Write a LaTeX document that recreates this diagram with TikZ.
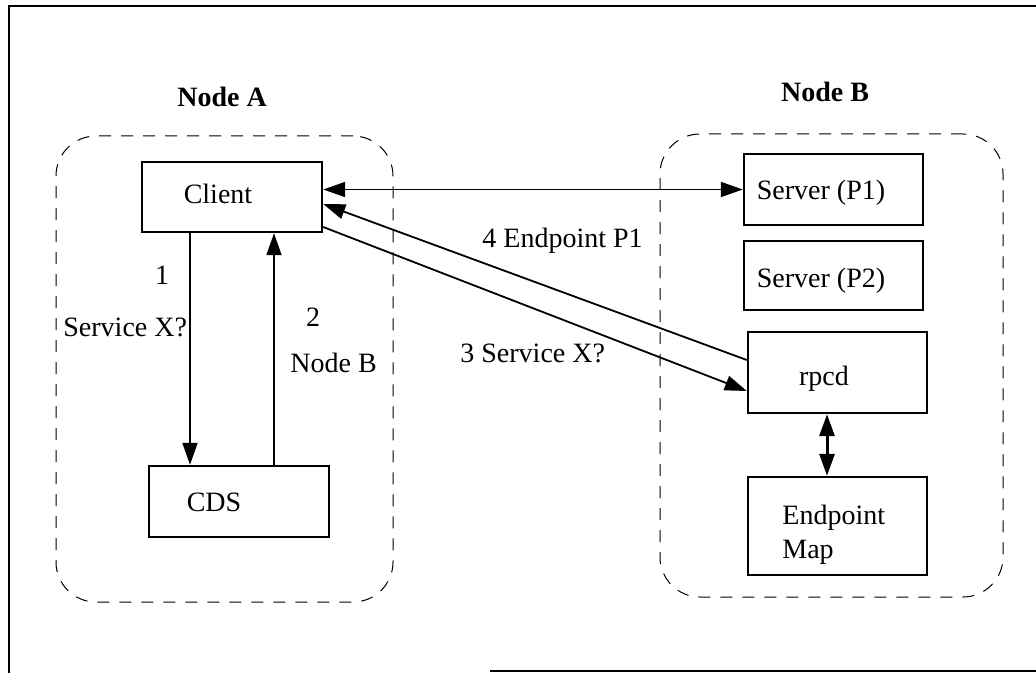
\documentclass[tikz,border=0pt]{standalone}
\usepackage{fontspec}
\setmainfont{Liberation Serif}
\usetikzlibrary{arrows.meta,calc}
\begin{document}
\begin{tikzpicture}[x=0.5pt,y=-0.5pt,
  font=\fontsize{14}{16.8}\selectfont,
  box/.style={draw, line width=1.2pt, inner sep=0pt},
  group/.style={draw, line width=0.5pt, dash pattern=on 6pt off 5pt, rounded corners=20pt, inner sep=0pt},
  lbl/.style={inner sep=0pt, anchor=base},
  lbll/.style={inner sep=0pt, anchor=base west},
  tip/.tip={Triangle[length=11pt,width=7.5pt]},
  conn/.style={line width=0.9pt, -tip},
  biconn/.style={line width=0.9pt, tip-tip}
]
\useasboundingbox (0,0) rectangle (1036,673);

% outer frame
\draw[line width=1.1pt] (1036,6) coordinate (fr1) -- (9,6) coordinate (fr2) -- (9,673) coordinate (fr3);
\draw[line width=1.1pt] (490,671) coordinate (fr4) -- (1036,671) coordinate (fr5);

% host groups
\node[group, minimum width=168.5pt, minimum height=233pt] (hostA) at (224.5,369) {};
\node[group, minimum width=171.5pt, minimum height=231.5pt] (hostB) at (831.5,365.5) {};
\node[lbl, font=\fontsize{14}{16.8}\selectfont\bfseries] (titleA) at (222,107) {Node A};
\node[lbl, font=\fontsize{14}{16.8}\selectfont\bfseries] (titleB) at (825,102) {Node B};

% components
\node[box, minimum width=90pt, minimum height=35pt] (client) at (232,197) {};
\node[box, minimum width=90pt, minimum height=35.5pt] (cds) at (239,501.5) {};
\node[box, minimum width=89.5pt, minimum height=35.5pt] (server1) at (833.5,189.5) {};
\node[box, minimum width=89.5pt, minimum height=34.5pt] (server2) at (833.5,275.5) {};
\node[box, minimum width=89.5pt, minimum height=40.5pt] (rpcd) at (837.5,372.5) {};
\node[box, minimum width=89.5pt, minimum height=49pt] (epmap) at (837.5,526) {};

\node[lbl] (tclient) at (218,204) {Client};
\node[lbl] (tcds) at (214,511) {CDS};
\node[lbl] (tserver1) at (821,200) {Server (P1)};
\node[lbl] (tserver2) at (821,287) {Server (P2)};
\node[lbl] (trpcd) at (824,385) {rpcd};
\node[lbll] (tep1) at (782,524) {Endpoint};
\node[lbll] (tep2) at (782,558) {Map};

% connectors
\draw[biconn] (server1.west -| client.east) -- (server1.west);
\draw[conn] ($(client.south)+(-42,0)$) coordinate (a1) -- (a1 |- cds.north);
\draw[conn] ($(cds.north)+(35,0)$) coordinate (a2) -- (a2 |- client.south);
\draw[conn] ($(rpcd.west)+(0,-12.5)$) -- ($(client.east)+(0,7)$);
\draw[conn] ($(client.east)+(0,30)$) -- ($(rpcd.west)+(0,18.5)$);
\draw[biconn, line width=1.5pt] ($(rpcd.south)+(-10.5,0)$) coordinate (a5) -- (a5 |- epmap.north);

% message labels
\node[lbl] (m1) at (162,285) {1};
\node[lbll] (m1b) at (63,336) {Service X?};
\node[lbl] (m2) at (313,326) {2};
\node[lbll] (m2b) at (290,372) {Node B};
\node[lbll] (m4) at (482,248) {4 Endpoint P1};
\node[lbll] (m3) at (460,362) {3 Service X?};
\end{tikzpicture}
\end{document}
